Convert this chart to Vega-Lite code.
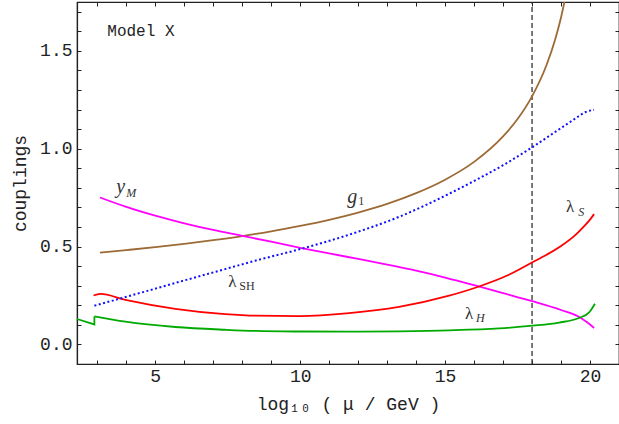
{
  "$schema": "https://vega.github.io/schema/vega-lite/v6.json",
  "width": 542,
  "height": 362,
  "autosize": {"type": "none"},
  "padding": {"left": 77, "top": 2, "right": 0, "bottom": 60},
  "background": "white",
  "config": {
    "view": {"stroke": "#222222", "strokeWidth": 1.2},
    "axis": {
      "domain": true,
      "domainColor": "#222222",
      "domainWidth": 1.2,
      "tickColor": "#222222",
      "tickWidth": 1,
      "labelColor": "#222222",
      "titleColor": "#222222",
      "labelFont": "Liberation Mono",
      "titleFont": "Liberation Mono",
      "labelFontSize": 18,
      "titleFontSize": 18,
      "titleFontWeight": "normal",
      "grid": false
    }
  },
  "datasets": {
    "curves": [
      {"s": "g1", "i": 0, "x": 3.09, "y": 0.469},
      {"s": "g1", "i": 1, "x": 4, "y": 0.482},
      {"s": "g1", "i": 2, "x": 5, "y": 0.497},
      {"s": "g1", "i": 3, "x": 6, "y": 0.514},
      {"s": "g1", "i": 4, "x": 7, "y": 0.533},
      {"s": "g1", "i": 5, "x": 8, "y": 0.554},
      {"s": "g1", "i": 6, "x": 9, "y": 0.578},
      {"s": "g1", "i": 7, "x": 10, "y": 0.606},
      {"s": "g1", "i": 8, "x": 11, "y": 0.637},
      {"s": "g1", "i": 9, "x": 12, "y": 0.674},
      {"s": "g1", "i": 10, "x": 13, "y": 0.718},
      {"s": "g1", "i": 11, "x": 14, "y": 0.773},
      {"s": "g1", "i": 12, "x": 15, "y": 0.842},
      {"s": "g1", "i": 13, "x": 16, "y": 0.933},
      {"s": "g1", "i": 14, "x": 17, "y": 1.063},
      {"s": "g1", "i": 15, "x": 17.5, "y": 1.152},
      {"s": "g1", "i": 16, "x": 18, "y": 1.268},
      {"s": "g1", "i": 17, "x": 18.5, "y": 1.428},
      {"s": "g1", "i": 18, "x": 18.8, "y": 1.560},
      {"s": "g1", "i": 19, "x": 19, "y": 1.671},
      {"s": "g1", "i": 20, "x": 19.2, "y": 1.809},
      {"s": "yM", "i": 0, "x": 3.09, "y": 0.751},
      {"s": "yM", "i": 1, "x": 4, "y": 0.703},
      {"s": "yM", "i": 2, "x": 5, "y": 0.658},
      {"s": "yM", "i": 3, "x": 6, "y": 0.619},
      {"s": "yM", "i": 4, "x": 7, "y": 0.585},
      {"s": "yM", "i": 5, "x": 8, "y": 0.555},
      {"s": "yM", "i": 6, "x": 9, "y": 0.525},
      {"s": "yM", "i": 7, "x": 10, "y": 0.494},
      {"s": "yM", "i": 8, "x": 11, "y": 0.465},
      {"s": "yM", "i": 9, "x": 12, "y": 0.437},
      {"s": "yM", "i": 10, "x": 13, "y": 0.408},
      {"s": "yM", "i": 11, "x": 14, "y": 0.377},
      {"s": "yM", "i": 12, "x": 15, "y": 0.342},
      {"s": "yM", "i": 13, "x": 16, "y": 0.303},
      {"s": "yM", "i": 14, "x": 17, "y": 0.262},
      {"s": "yM", "i": 15, "x": 18, "y": 0.221},
      {"s": "yM", "i": 16, "x": 19, "y": 0.176},
      {"s": "yM", "i": 17, "x": 19.6, "y": 0.143},
      {"s": "yM", "i": 18, "x": 19.9, "y": 0.113},
      {"s": "yM", "i": 19, "x": 20.14, "y": 0.084},
      {"s": "lS", "i": 0, "x": 2.87, "y": 0.250},
      {"s": "lS", "i": 1, "x": 3.10, "y": 0.258},
      {"s": "lS", "i": 2, "x": 3.97, "y": 0.228},
      {"s": "lS", "i": 3, "x": 5.69, "y": 0.182},
      {"s": "lS", "i": 4, "x": 7.41, "y": 0.155},
      {"s": "lS", "i": 5, "x": 8.45, "y": 0.147},
      {"s": "lS", "i": 6, "x": 9.97, "y": 0.145},
      {"s": "lS", "i": 7, "x": 11.69, "y": 0.160},
      {"s": "lS", "i": 8, "x": 13.41, "y": 0.192},
      {"s": "lS", "i": 9, "x": 15.14, "y": 0.249},
      {"s": "lS", "i": 10, "x": 16.17, "y": 0.296},
      {"s": "lS", "i": 11, "x": 17.2, "y": 0.356},
      {"s": "lS", "i": 12, "x": 18.03, "y": 0.421},
      {"s": "lS", "i": 13, "x": 18.5, "y": 0.458},
      {"s": "lS", "i": 14, "x": 19, "y": 0.503},
      {"s": "lS", "i": 15, "x": 19.5, "y": 0.560},
      {"s": "lS", "i": 16, "x": 19.8, "y": 0.605},
      {"s": "lS", "i": 17, "x": 20.0, "y": 0.638},
      {"s": "lS", "i": 18, "x": 20.14, "y": 0.666},
      {"s": "lH", "i": 0, "x": 2.90, "y": 0.143},
      {"s": "lH", "i": 1, "x": 3.97, "y": 0.116},
      {"s": "lH", "i": 2, "x": 5.69, "y": 0.089},
      {"s": "lH", "i": 3, "x": 7.41, "y": 0.075},
      {"s": "lH", "i": 4, "x": 8.45, "y": 0.069},
      {"s": "lH", "i": 5, "x": 10.0, "y": 0.066},
      {"s": "lH", "i": 6, "x": 11.69, "y": 0.065},
      {"s": "lH", "i": 7, "x": 13.41, "y": 0.067},
      {"s": "lH", "i": 8, "x": 15.14, "y": 0.072},
      {"s": "lH", "i": 9, "x": 16.86, "y": 0.082},
      {"s": "lH", "i": 10, "x": 18.03, "y": 0.096},
      {"s": "lH", "i": 11, "x": 18.93, "y": 0.112},
      {"s": "lH", "i": 12, "x": 19.62, "y": 0.135},
      {"s": "lH", "i": 13, "x": 19.97, "y": 0.164},
      {"s": "lH", "i": 14, "x": 20.17, "y": 0.208}
    ],
    "lhlow": [
      {"i": 0, "x": 2.3, "y": 0.130},
      {"i": 1, "x": 2.90, "y": 0.102},
      {"i": 2, "x": 2.90, "y": 0.143}
    ],
    "sh": [
      {"i": 0, "x": 2.90, "y": 0.198},
      {"i": 1, "x": 3.97, "y": 0.242},
      {"i": 2, "x": 5.69, "y": 0.314},
      {"i": 3, "x": 7.41, "y": 0.385},
      {"i": 4, "x": 8.45, "y": 0.428},
      {"i": 5, "x": 9.97, "y": 0.486},
      {"i": 6, "x": 11.69, "y": 0.561},
      {"i": 7, "x": 13.41, "y": 0.652},
      {"i": 8, "x": 15.14, "y": 0.770},
      {"i": 9, "x": 16.06, "y": 0.840},
      {"i": 10, "x": 17, "y": 0.916},
      {"i": 11, "x": 18.03, "y": 1.010},
      {"i": 12, "x": 19, "y": 1.106},
      {"i": 13, "x": 19.5, "y": 1.155},
      {"i": 14, "x": 19.85, "y": 1.188},
      {"i": 15, "x": 20.14, "y": 1.199}
    ],
    "cut": [
      {"x": 18, "y": -0.1, "y2": 1.75}
    ],
    "labels": [
      {"kind": "mainItalic", "t": "y", "x": 3.655, "y": 0.775},
      {"kind": "mainItalic", "t": "g", "x": 11.62, "y": 0.724},
      {"kind": "main", "t": "λ", "x": 7.517, "y": 0.295},
      {"kind": "main", "t": "λ", "x": 19.17, "y": 0.678},
      {"kind": "main", "t": "λ", "x": 15.69, "y": 0.131},
      {"kind": "subItalic", "t": "M", "x": 4.0, "y": 0.755},
      {"kind": "subItalic", "t": "S", "x": 19.59, "y": 0.658},
      {"kind": "subItalic", "t": "H", "x": 16.07, "y": 0.117},
      {"kind": "sub", "t": "1", "x": 12.0, "y": 0.714},
      {"kind": "sub", "t": "SH", "x": 7.90, "y": 0.280},
      {"kind": "model", "t": "Model X", "x": 3.345, "y": 1.578}
    ]
  },
  "layer": [
    {
      "mark": {"type": "rule", "color": "#9999CC", "strokeWidth": 2},
      "encoding": {
        "y": {"datum": 0, "type": "quantitative", "scale": {"domain": [-0.1, 1.75], "nice": false, "zero": false}, "axis": null}
      }
    },
    {
      "data": {"name": "cut"},
      "mark": {"type": "rule", "color": "#333333", "strokeWidth": 1.3, "strokeDash": [5, 3]},
      "encoding": {
        "x": {"field": "x", "type": "quantitative", "scale": {"domain": [2.3, 21], "nice": false, "zero": false}, "axis": null},
        "y": {"field": "y", "type": "quantitative", "axis": null},
        "y2": {"field": "y2"}
      }
    },
    {
      "data": {"name": "curves"},
      "mark": {"type": "line", "strokeWidth": 1.8, "clip": true, "interpolate": "monotone"},
      "encoding": {
        "x": {
          "field": "x", "type": "quantitative",
          "axis": {
            "orient": "bottom",
            "values": [3,4,5,6,7,8,9,10,11,12,13,14,15,16,17,18,19,20],
            "labelExpr": "datum.value % 5 === 0 ? datum.label : ''",
            "tickSize": -4,
            "labelPadding": 7,
            "title": "log₁₀ ( μ / GeV )",
            "titlePadding": 10
          }
        },
        "y": {
          "field": "y", "type": "quantitative",
          "axis": {
            "orient": "left",
            "values": [0,0.1,0.2,0.3,0.4,0.5,0.6,0.7,0.8,0.9,1.0,1.1,1.2,1.3,1.4,1.5,1.6,1.7],
            "format": ".1f",
            "labelExpr": "abs(round(datum.value*10) % 5) === 0 ? datum.label : ''",
            "tickSize": -4,
            "labelPadding": 9,
            "title": "couplings",
            "titlePadding": 10
          }
        },
        "color": {
          "field": "s", "type": "nominal",
          "scale": {"domain": ["g1", "yM", "lS", "lH"], "range": ["#9C6A35", "#FF00FF", "#FF0000", "#00AA00"]},
          "legend": null
        },
        "order": {"field": "i", "type": "quantitative"}
      }
    },
    {
      "data": {"name": "lhlow"},
      "mark": {"type": "line", "strokeWidth": 1.8, "color": "#00AA00"},
      "encoding": {
        "x": {"field": "x", "type": "quantitative", "axis": null},
        "y": {"field": "y", "type": "quantitative", "axis": null},
        "order": {"field": "i", "type": "quantitative"}
      }
    },
    {
      "data": {"name": "sh"},
      "mark": {"type": "line", "strokeWidth": 2, "color": "#1010FF", "strokeDash": [2, 2.5], "interpolate": "monotone"},
      "encoding": {
        "x": {
          "field": "x", "type": "quantitative",
          "axis": {
            "orient": "top",
            "values": [3,4,5,6,7,8,9,10,11,12,13,14,15,16,17,18,19,20],
            "labels": false,
            "tickSize": -4,
            "title": null
          }
        },
        "y": {
          "field": "y", "type": "quantitative",
          "axis": {
            "orient": "right",
            "values": [0,0.1,0.2,0.3,0.4,0.5,0.6,0.7,0.8,0.9,1.0,1.1,1.2,1.3,1.4,1.5,1.6,1.7],
            "labels": false,
            "tickSize": -4,
            "title": null
          }
        },
        "order": {"field": "i", "type": "quantitative"}
      }
    },
    {
      "data": {"name": "labels"},
      "transform": [{"filter": "datum.kind === 'mainItalic'"}],
      "mark": {"type": "text", "font": "Liberation Serif", "fontStyle": "italic", "fontSize": 20, "align": "left", "baseline": "alphabetic", "color": "#333333"},
      "encoding": {
        "x": {"field": "x", "type": "quantitative", "axis": null},
        "y": {"field": "y", "type": "quantitative", "axis": null},
        "text": {"field": "t"}
      }
    },
    {
      "data": {"name": "labels"},
      "transform": [{"filter": "datum.kind === 'main'"}],
      "mark": {"type": "text", "font": "Liberation Serif", "fontSize": 17, "align": "left", "baseline": "alphabetic", "color": "#333333"},
      "encoding": {
        "x": {"field": "x", "type": "quantitative", "axis": null},
        "y": {"field": "y", "type": "quantitative", "axis": null},
        "text": {"field": "t"}
      }
    },
    {
      "data": {"name": "labels"},
      "transform": [{"filter": "datum.kind === 'subItalic'"}],
      "mark": {"type": "text", "font": "Liberation Serif", "fontStyle": "italic", "fontSize": 12, "align": "left", "baseline": "alphabetic", "color": "#333333"},
      "encoding": {
        "x": {"field": "x", "type": "quantitative", "axis": null},
        "y": {"field": "y", "type": "quantitative", "axis": null},
        "text": {"field": "t"}
      }
    },
    {
      "data": {"name": "labels"},
      "transform": [{"filter": "datum.kind === 'sub'"}],
      "mark": {"type": "text", "font": "Liberation Serif", "fontSize": 12, "align": "left", "baseline": "alphabetic", "color": "#333333"},
      "encoding": {
        "x": {"field": "x", "type": "quantitative", "axis": null},
        "y": {"field": "y", "type": "quantitative", "axis": null},
        "text": {"field": "t"}
      }
    },
    {
      "data": {"name": "labels"},
      "transform": [{"filter": "datum.kind === 'model'"}],
      "mark": {"type": "text", "font": "Liberation Mono", "fontSize": 16, "align": "left", "baseline": "alphabetic", "color": "#222222"},
      "encoding": {
        "x": {"field": "x", "type": "quantitative", "axis": null},
        "y": {"field": "y", "type": "quantitative", "axis": null},
        "text": {"field": "t"}
      }
    }
  ],
  "resolve": {"axis": {"x": "independent", "y": "independent"}}
}
